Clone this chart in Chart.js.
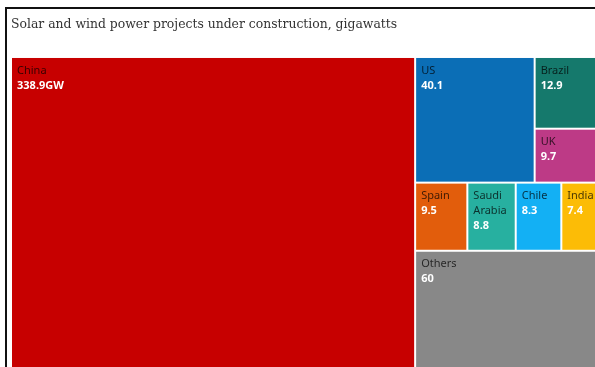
<!DOCTYPE html>
<html>
<head>
<meta charset="utf-8">
<script src="https://cdn.jsdelivr.net/npm/chart.js@4.4.1/dist/chart.umd.min.js"></script>
<style>
  html, body { margin: 0; padding: 0; background: #fff; overflow: hidden; }
  #frame { position: absolute; left: 5px; top: 7px; width: 700px; height: 500px;
    border-left: 2px solid #111; border-top: 2px solid #111; }
  #wrap { position: absolute; left: 0; top: 0; width: 620px; height: 380px; }
</style>
</head>
<body>
<div id="frame"></div>
<div id="wrap"><canvas id="chart"></canvas></div>
<script>
// data
const countries = ['China', 'US', 'Brazil', 'UK', 'Spain', 'Saudi Arabia', 'Chile', 'India', 'Others'];
const gigawatts = [338.9, 40.1, 12.9, 9.7, 9.5, 8.8, 8.3, 7.4, 60];
const valueLabels = ['338.9GW', '40.1', '12.9', '9.7', '9.5', '8.8', '8.3', '7.4', '60'];
const cellColors = ['#c70000', '#0b6eb6', '#15796c', '#bd3a86', '#e25d0c', '#27b0a0', '#13b0f4', '#fcbc06', '#888888'];

// how the cells nest: 'h' splits left to right, 'v' splits top to bottom
const nesting = ['h', 'China',
  ['v',
    ['h', 'US', ['v', 'Brazil', 'UK']],
    ['h', 'Spain', 'Saudi Arabia', 'Chile', 'India'],
    'Others']];

function weight(node) {
  if (typeof node === 'string') return gigawatts[countries.indexOf(node)];
  return node.slice(1).reduce((s, n) => s + weight(n), 0);
}

// cells in data units: x runs 0..total GW, y runs 0..1
function layout(node, x0, x1, y0, y1, out) {
  if (typeof node === 'string') {
    out.push({ name: node, x0, x1, y0, y1 });
    return out;
  }
  const dir = node[0];
  const total = weight(node);
  let pos = dir === 'h' ? x0 : y0;
  node.slice(1).forEach((k) => {
    const span = (dir === 'h' ? x1 - x0 : y1 - y0) * weight(k) / total;
    if (dir === 'h') layout(k, pos, pos + span, y0, y1, out);
    else layout(k, x0, x1, pos, pos + span, out);
    pos += span;
  });
  return out;
}

const totalGW = weight(nesting);
const cells = layout(nesting, 0, totalGW, 0, 1, []);

// split a name into lines that fit the cell
function wrapName(ctx, name, maxW) {
  if (ctx.measureText(name).width <= maxW) return [name];
  return name.split(' ');
}

const treemapCells = {
  id: 'treemapCells',
  beforeDatasetsDraw(chart) {
    const { ctx, scales: { x, y } } = chart;
    ctx.save();
    cells.forEach((c) => {
      const i = countries.indexOf(c.name);
      const left = x.getPixelForValue(c.x0);
      const right = x.getPixelForValue(c.x1);
      const top = y.getPixelForValue(c.y0);
      const bottom = y.getPixelForValue(c.y1);
      ctx.fillStyle = cellColors[i];
      ctx.fillRect(left + 1, top + 1, right - left - 2, bottom - top - 2);

      ctx.textAlign = 'left';
      ctx.textBaseline = 'top';
      ctx.font = '11px "Noto Sans"';
      ctx.fillStyle = 'rgba(0,0,0,0.72)';
      const lines = wrapName(ctx, c.name, right - left - 10);
      let ty = top + 8;
      lines.forEach((l) => {
        ctx.fillText(l, left + 6, ty);
        ty += 15;
      });
      ctx.font = 'bold 11px "Noto Sans"';
      ctx.fillStyle = '#ffffff';
      ctx.fillText(valueLabels[i], left + 6, ty);
    });
    ctx.restore();
  }
};

new Chart(document.getElementById('chart'), {
  type: 'scatter',
  data: {
    datasets: [{
      data: cells.map((c) => ({ x: (c.x0 + c.x1) / 2, y: (c.y0 + c.y1) / 2 })),
      pointRadius: 0,
      pointHoverRadius: 0
    }]
  },
  options: {
    responsive: true,
    maintainAspectRatio: false,
    animation: false,
    events: [],
    layout: { padding: { left: 11, top: 17, right: 18, bottom: 9 } },
    scales: {
      x: { type: 'linear', min: 0, max: totalGW, display: false },
      y: { type: 'linear', min: 0, max: 1, reverse: true, display: false }
    },
    plugins: {
      legend: { display: false },
      tooltip: { enabled: false },
      title: {
        display: true,
        text: 'Solar and wind power projects under construction, gigawatts',
        align: 'start',
        color: '#333333',
        font: { family: '"DejaVu Serif"', size: 12.4, weight: 'normal' },
        padding: { top: 0, bottom: 25.1 }
      }
    }
  },
  plugins: [treemapCells]
});
</script>
</body>
</html>
